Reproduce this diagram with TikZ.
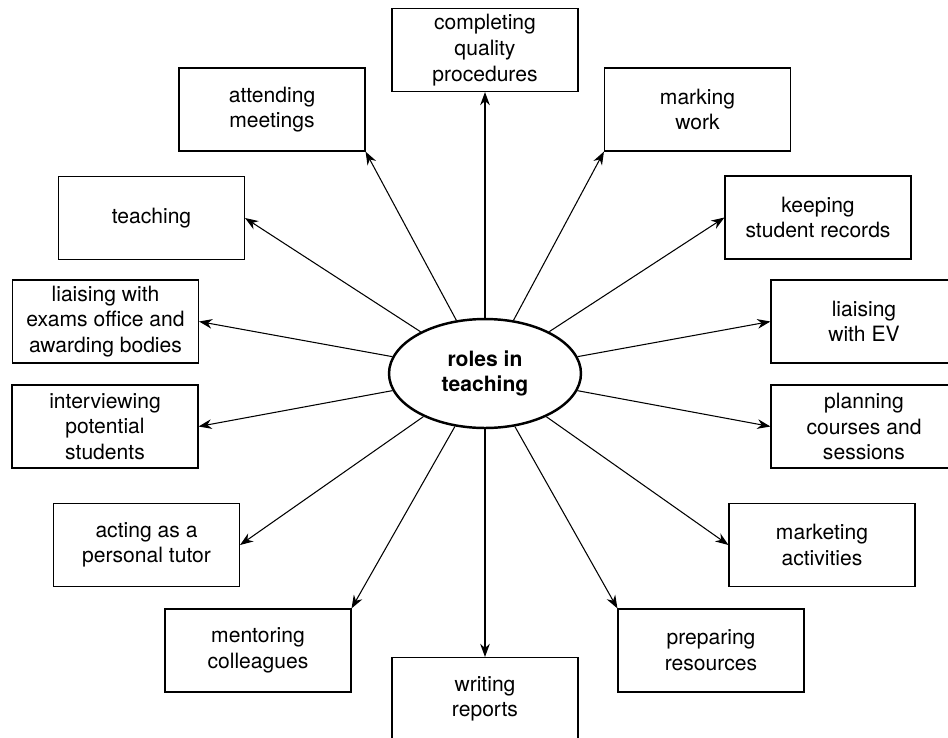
\documentclass[tikz,border=0pt]{standalone}
\usepackage{fontspec}
\setmainfont{TeX Gyre Heros}
\usetikzlibrary{shapes.geometric,arrows.meta}

\begin{document}
\begin{tikzpicture}[x=0.02cm, y=-0.02cm, >={Stealth[length=7.5pt,width=5.5pt]},
  role/.style={draw, line width=0.65pt, minimum width=3.72cm, minimum height=1.66cm,
    align=center, inner sep=2pt, font=\fontsize{12}{14.6}\selectfont},
  hub/.style={draw, ellipse, line width=1.4pt, minimum width=3.84cm, minimum height=2.18cm,
    inner sep=0pt, align=center, font=\fontsize{12}{14.6}\selectfont\bfseries}]
  \path[use as bounding box] (0,0) rectangle (948,738);
  \clip (0,0) rectangle (948,738);
  \node[hub] (hub) at (485,373.5) {roles in\\teaching};
  \node[role] (quality) at (485,50) {completing\\quality\\procedures};
  \node[role] (meetings) at (272,109.5) {attending\\meetings};
  \node[role] (marking) at (697.5,109.5) {marking\\work};
  \node[role] (teaching) at (151.5,218) {teaching};
  \node[role] (records) at (818,217.5) {keeping\\student records};
  \node[role] (exams) at (105.5,321.5) {liaising with\\exams office and\\awarding bodies};
  \node[role] (ev) at (864,321.5) {liaising\\with EV};
  \node[role] (interview) at (105,426.5) {interviewing\\potential\\students};
  \node[role] (planning) at (864,426.5) {planning\\courses and\\sessions};
  \node[role] (tutor) at (146.5,545) {acting as a\\personal tutor};
  \node[role] (marketing) at (822,545) {marketing\\activities};
  \node[role] (mentoring) at (258,650.5) {mentoring\\colleagues};
  \node[role] (resources) at (711,650.5) {preparing\\resources};
  \node[role] (reports) at (485,699) {writing\\reports};
  \draw[semithick, ->] (hub) -- (quality.south);
  \draw[semithick, ->] (hub) -- (meetings.south east);
  \draw[semithick, ->] (hub) -- (marking.south west);
  \draw[semithick, ->] (hub) -- (teaching.east);
  \draw[semithick, ->] (hub) -- (records.west);
  \draw[semithick, ->] (hub) -- (exams.east);
  \draw[semithick, ->] (hub) -- (ev.west);
  \draw[semithick, ->] (hub) -- (interview.east);
  \draw[semithick, ->] (hub) -- (planning.west);
  \draw[semithick, ->] (hub) -- (tutor.east);
  \draw[semithick, ->] (hub) -- (marketing.west);
  \draw[semithick, ->] (hub) -- (mentoring.north east);
  \draw[semithick, ->] (hub) -- (resources.north west);
  \draw[semithick, ->] (hub) -- (reports.north);
\end{tikzpicture}
\end{document}
